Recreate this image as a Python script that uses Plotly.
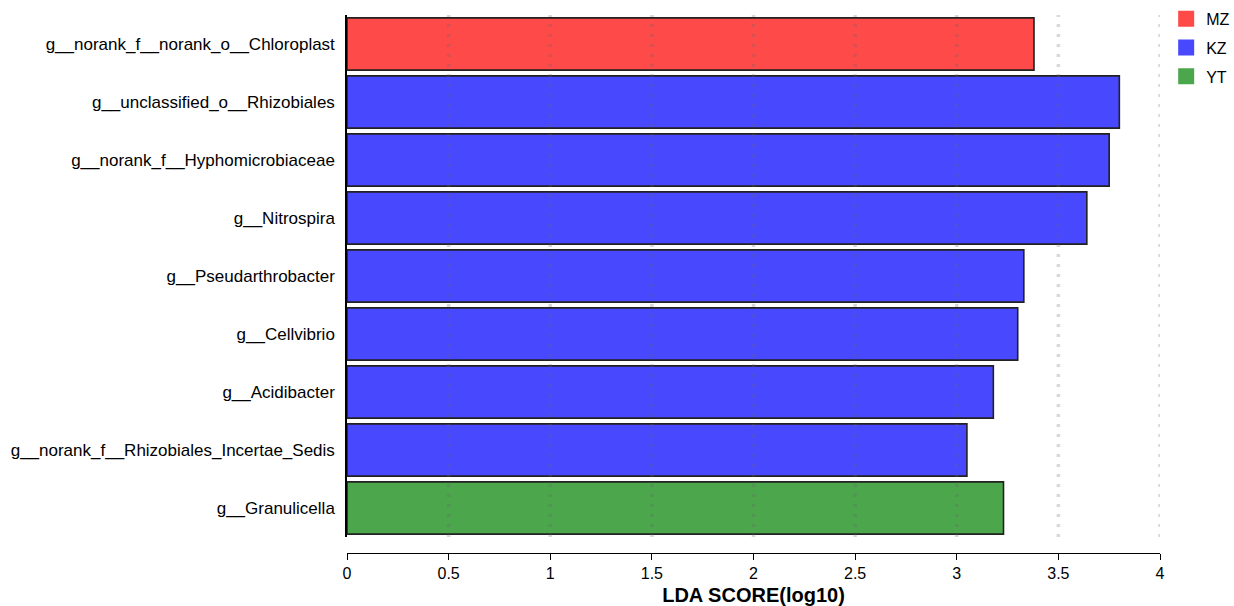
import plotly.graph_objects as go

# LDA effect sizes of the discriminant genera, top to bottom
taxa = [
    "g__norank_f__norank_o__Chloroplast",
    "g__unclassified_o__Rhizobiales",
    "g__norank_f__Hyphomicrobiaceae",
    "g__Nitrospira",
    "g__Pseudarthrobacter",
    "g__Cellvibrio",
    "g__Acidibacter",
    "g__norank_f__Rhizobiales_Incertae_Sedis",
    "g__Granulicella",
]
lda_scores = [3.38, 3.80, 3.75, 3.64, 3.33, 3.30, 3.18, 3.05, 3.23]
groups = ["MZ", "KZ", "KZ", "KZ", "KZ", "KZ", "KZ", "KZ", "YT"]

group_order = ["MZ", "KZ", "YT"]
group_colors = {"MZ": "rgb(255,74,74)", "KZ": "rgb(72,72,255)", "YT": "rgb(76,166,76)"}

x_ticks = [0, 0.5, 1, 1.5, 2, 2.5, 3, 3.5, 4]
x_ticktext = ["0", "0.5", "1", "1.5", "2", "2.5", "3", "3.5", "4"]

FONT = "Liberation Sans, Arial, sans-serif"

fig = go.Figure()

for g in group_order:
    xs = [v for v, gg in zip(lda_scores, groups) if gg == g]
    ys = [t for t, gg in zip(taxa, groups) if gg == g]
    fig.add_trace(go.Bar(
        x=xs, y=ys, orientation="h", width=0.9,
        marker=dict(color=group_colors[g], line=dict(color="#222222", width=1.6)),
        showlegend=False, hoverinfo="x+y", legendgroup=g,
    ))
    # legend swatch
    fig.add_trace(go.Scatter(
        x=[None], y=[None], mode="markers", name=g, legendgroup=g,
        marker=dict(symbol="square", size=16, color=group_colors[g]),
    ))

# dotted vertical guides drawn over the bars
for t in x_ticks[1:]:
    fig.add_shape(
        type="line", xref="x", yref="y domain", x0=t, x1=t, y0=0, y1=1,
        line=dict(color="rgba(100,100,100,0.25)", width=3.5, dash="3px,7px"),
        layer="above",
    )

fig.update_layout(
    width=1234, height=606,
    margin=dict(l=347, r=74, t=15, b=53, autoexpand=False),
    paper_bgcolor="white", plot_bgcolor="white",
    barmode="overlay",
    font=dict(family=FONT, color="black", size=17),
    legend=dict(
        x=1.0076, y=1.0245, xanchor="left", yanchor="top",
        font=dict(size=16, family=FONT), itemwidth=30,
        traceorder="grouped", tracegroupgap=5,
        bgcolor="rgba(0,0,0,0)",
    ),
    xaxis=dict(
        range=[0, 4], tickvals=x_ticks, ticktext=x_ticktext,
        showgrid=False, zeroline=False,
        showline=True, linecolor="black", linewidth=1.2,
        ticks="outside", ticklen=6, tickcolor="black", tickwidth=1.2,
        tickfont=dict(size=16, family=FONT),
        anchor="free", position=0,
        title=dict(text="<b>LDA SCORE(log10)</b>", font=dict(size=20, family=FONT), standoff=6),
    ),
    yaxis=dict(
        domain=[0.0297, 1],
        categoryorder="array", categoryarray=taxa, autorange="reversed",
        range=[8.5, -0.5],
        showgrid=False, zeroline=False,
        showline=True, linecolor="black", linewidth=1.5,
        ticks="", ticklabelstandoff=7,
        tickfont=dict(size=17, family=FONT),
    ),
)

fig.write_html("out.html")
